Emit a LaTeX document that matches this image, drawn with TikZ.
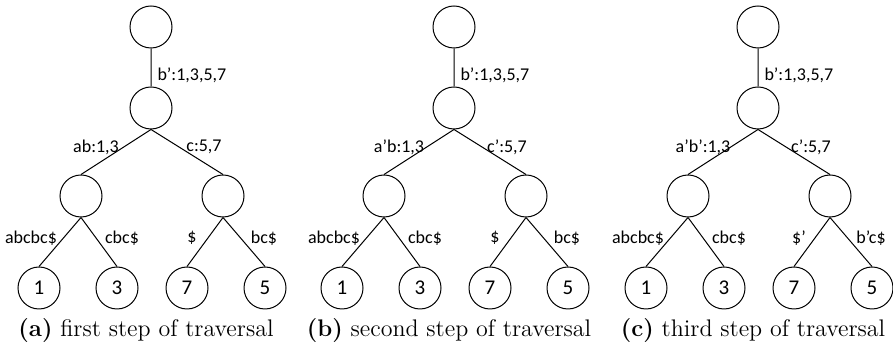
\documentclass[tikz,border=0pt]{standalone}
\usepackage{fontspec}
\newfontfamily\calib{Carlito}
\usetikzlibrary{positioning}
\tikzset{vert/.style={draw,circle,minimum size=21pt,inner sep=0pt,font=\calib\fontsize{10.5}{12}\selectfont},
lab/.style={inner sep=0pt,font=\calib\fontsize{9}{10}\selectfont},
capt/.style={inner sep=0pt,font=\fontsize{12}{14}\selectfont}}
% one traversal tree: shift, prefix, labels, caption
\newcommand{\sufftree}[8]{%
\begin{scope}[shift={(#1,0)}]
\node[vert] (#2r) at (151,27) {};
\node[vert] (#2m) at (151,108) {};
\node[vert] (#2L) at (81,196) {};
\node[vert] (#2R) at (223,196) {};
\node[vert] (#2a) at (39,288) {1};
\node[vert] (#2b) at (117,288) {3};
\node[vert] (#2c) at (187,288) {7};
\node[vert] (#2d) at (265,288) {5};
\draw (#2r)--(#2m) (#2m.south)--(#2L.north) (#2m.south)--(#2R.north)
(#2L.south)--(#2a.north) (#2L.south)--(#2b.north)
(#2R.south)--(#2c.north) (#2R.south)--(#2d.north);
\node[lab,anchor=west] at (157,75) {b’:1,3,5,7};
\node[lab] at (96,147) {#3};
\node[lab] at (204,147) {#4};
\node[lab] at (31,238) {abcbc\$};
\node[lab] at (122,238) {cbc\$};
\node[lab] at (192,238) {#5};
\node[lab] at (264,238) {#6};
\node[capt] at (146,331) {\textbf{(#7)} #8};
\end{scope}}

\begin{document}
\begin{tikzpicture}[x=0.5pt,y=-0.5pt,line width=0.5pt]
\useasboundingbox (0,0) rectangle (893,346);
\sufftree{0}{A}{ab:1,3}{c:5,7}{\$}{bc\$}{a}{first step of traversal}
\sufftree{303}{B}{a’b:1,3}{c’:5,7}{\$}{bc\$}{b}{second step of traversal}
\sufftree{607}{C}{a’b’:1,3}{c’:5,7}{\$’}{b’c\$}{c}{third step of traversal}
\end{tikzpicture}
\end{document}
